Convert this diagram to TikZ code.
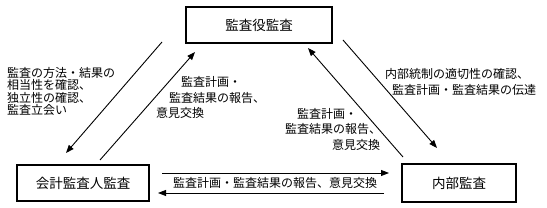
\documentclass[tikz,border=0pt]{standalone}
\usepackage{fontspec}
\newfontfamily\jp{Noto Sans CJK JP}
\usetikzlibrary{arrows.meta}
\begin{document}
\begin{tikzpicture}[x=1pt,y=-1pt,
  box/.style={draw,line width=1.2pt,inner sep=0pt,minimum height=36pt,font=\jp\fontsize{13.5}{15}\selectfont},
  lbl/.style={inner sep=0pt,align=left,font=\jp\fontsize{12}{15.5}\selectfont},
  conn/.style={line width=0.9pt,-{Triangle[length=8pt,width=6pt]}}]
\useasboundingbox (0,0) rectangle (547,208);
% boxes
\node[box,minimum width=146pt] (top) at (259,25) {監査役監査};
\node[box,minimum width=132pt] (left) at (83,183) {会計監査人監査};
\node[box,minimum width=114pt,minimum height=38pt] (right) at (459,183) {内部監査};
% arrow end points
\coordinate (a1s) at (162,42);  \coordinate (a1e) at (66,153);
\coordinate (a2s) at (100,160); \coordinate (a2e) at (195,52);
\coordinate (a3s) at (403,157); \coordinate (a3e) at (308,48);
\coordinate (a4s) at (343,40);  \coordinate (a4e) at (437,148);
\coordinate (h1s) at (162,173); \coordinate (h1e) at (389,173);
\coordinate (h2s) at (384,193); \coordinate (h2e) at (158,193);
\draw[conn] (a1s) -- (a1e);
\draw[conn] (a2s) -- (a2e);
\draw[conn] (a3s) -- (a3e);
\draw[conn] (a4s) -- (a4e);
\draw[conn] (h1s) -- (h1e);
\draw[conn] (h2s) -- (h2e);
% labels
\node[lbl,anchor=west,font=\jp\fontsize{12}{12.5}\selectfont] (l1) at (7,91.5)
  {監査の方法・結果の\\相当性を確認、\\独立性の確認、\\監査立会い};
\node[lbl,anchor=west] (l2) at (156,97.5)
  {\hspace*{25pt}監査計画・\\\hspace*{13pt}監査結果の報告、\\意見交換};
\node[lbl,anchor=west] (l3) at (285,129)
  {\hspace*{12pt}監査計画・\\監査結果の報告、\\\hspace*{47pt}意見交換};
\node[lbl,anchor=west,font=\jp\fontsize{12}{16}\selectfont] (l4) at (385,82)
  {内部統制の適切性の確認、\\\hspace*{7pt}監査計画・監査結果の伝達};
\node[lbl] (l5) at (275,183) {監査計画・監査結果の報告、意見交換};
\end{tikzpicture}
\end{document}
